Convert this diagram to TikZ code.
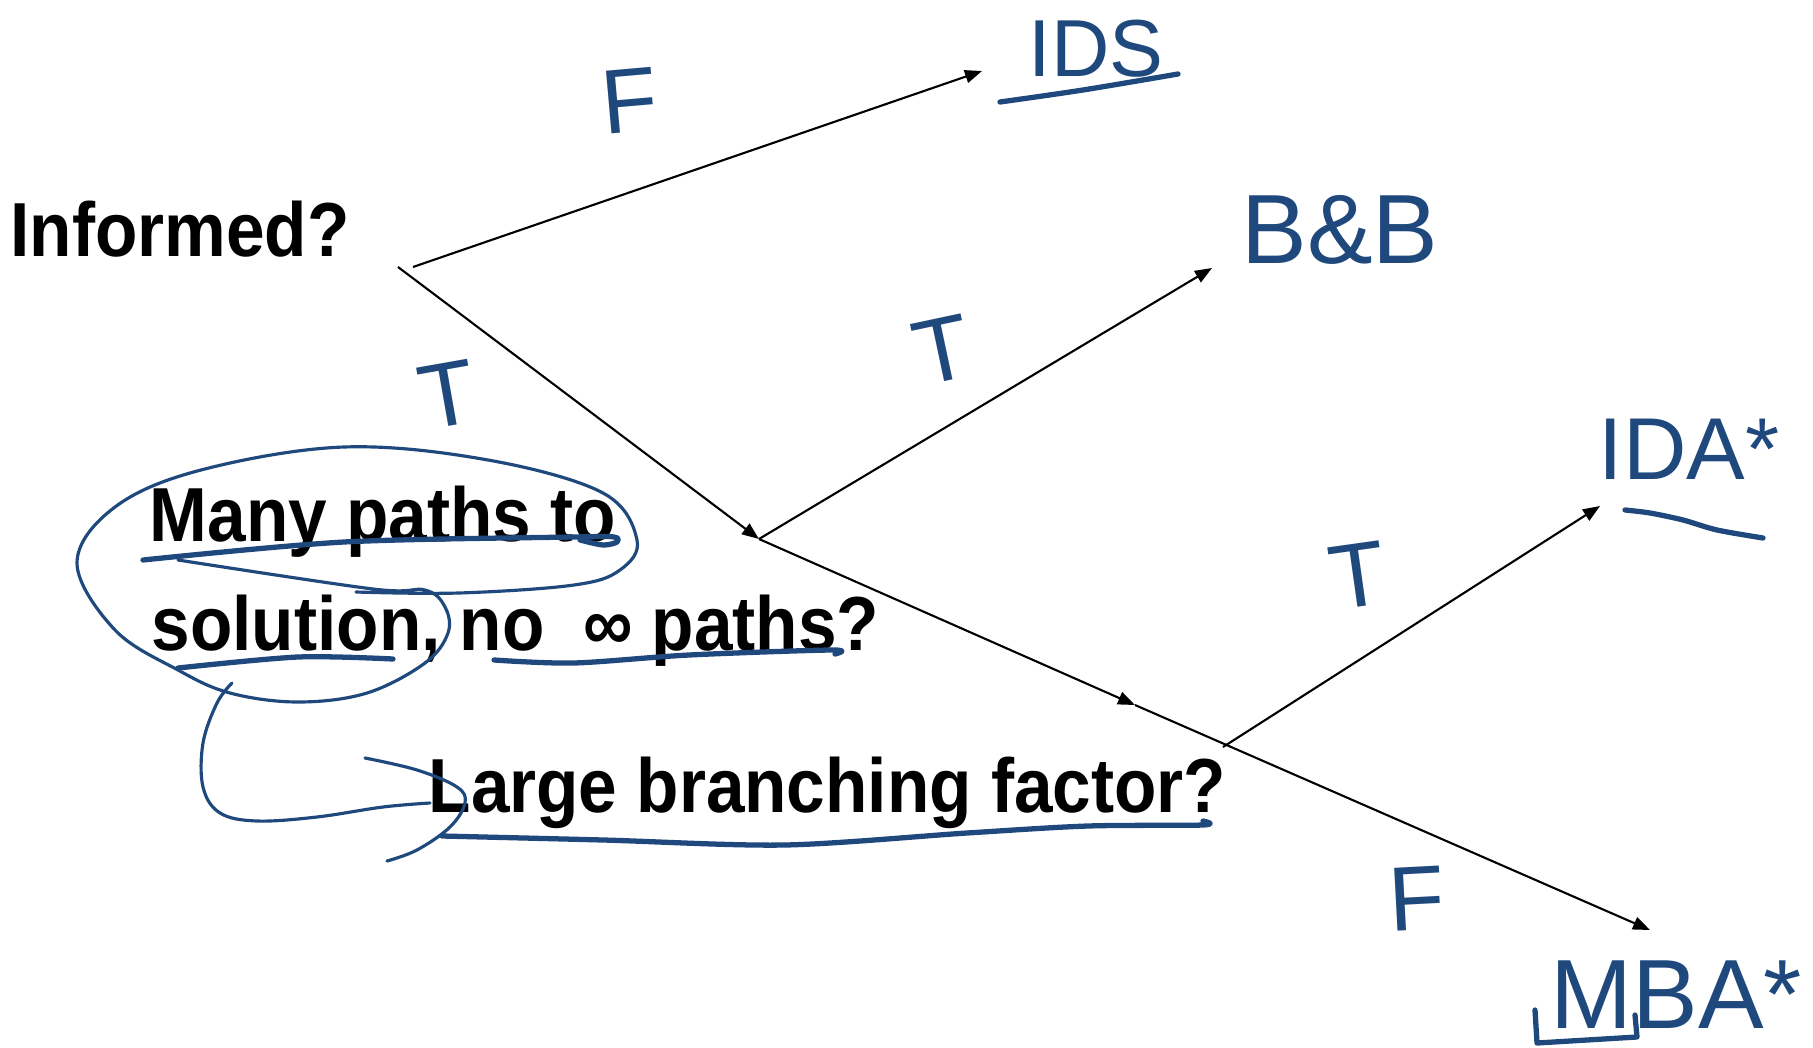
\documentclass[tikz,border=0pt]{standalone}
\usepackage{fontspec}
\usepackage{xcolor}
\usepackage{tikz}
\usetikzlibrary{arrows.meta}
\newfontfamily\slidefont[FakeStretch=0.905]{Liberation Sans}
\newfontfamily\handfont{Liberation Sans}
\definecolor{InkBlue}{RGB}{31,73,125}

\begin{document}
\begin{tikzpicture}[
    question/.style={anchor=base west,inner sep=0pt,text=black,
                     font=\slidefont\bfseries\fontsize{21.8}{26}\selectfont},
    hand/.style={inner sep=0pt,text=InkBlue,
                 font=\handfont\fontsize{26}{26}\selectfont},
    ink/.style={draw=InkBlue,line width=0.9pt,line cap=round,line join=round},
    inkbold/.style={ink,line width=1.5pt},
    arrow/.style={-{Triangle[length=0.17cm,width=0.13cm]},line width=0.6pt,black}]

    \fill[white] (0,0) rectangle (18.13,10.47);
    \useasboundingbox (0,0) rectangle (18.13,10.47);

    % questions
    \node[question] (informed)  at (0.10,7.90) {Informed?};
    \node[question] (manypaths) at (1.49,5.06) {Many paths to};
    \node[question] (nopaths)   at (1.51,3.97) {solution, no\ \ ∞ paths?};
    \node[question] (largebf)   at (4.28,2.35) {Large branching factor?};

    % answers
    \node[hand,font=\handfont\fontsize{23}{23}\selectfont] (ids) at (10.96,9.98) {IDS};
    \node[hand,font=\handfont\fontsize{28}{28}\selectfont] (bnb) at (13.40,8.17) {B\&B};
    \node[hand,font=\handfont\fontsize{25}{25}\selectfont,anchor=west] (idastar) at (15.98,5.98) {IDA*};
    \node[hand,font=\handfont\fontsize{28}{28}\selectfont,anchor=west] (mbastar) at (15.50,0.52) {MBA*};

    % branch labels
    \node[hand,rotate=5]  (lblF1) at (6.30,9.46) {F};
    \node[hand,rotate=10] (lblT1) at (4.48,6.52) {T};
    \node[hand,rotate=12] (lblT2) at (9.42,6.97) {T};
    \node[hand,rotate=8]  (lblT3) at (13.58,4.72) {T};
    \node[hand,rotate=3]  (lblF2) at (14.17,1.48) {F};

    % branch points and arrow tips
    \coordinate (infF)  at (4.13,7.80);
    \coordinate (infT)  at (3.98,7.80);
    \coordinate (q2)    at (7.59,5.08);
    \coordinate (q3)    at (11.35,3.42);
    \coordinate (q3T)   at (12.23,3.00);
    \coordinate (idsTip) at (9.82,9.76);
    \coordinate (bnbTip) at (12.12,7.79);
    \coordinate (idaTip) at (16.00,5.41);
    \coordinate (mbaTip) at (16.50,1.17);

    \draw[arrow] (infF) -- (idsTip);
    \draw[arrow] (infT) -- (q2);
    \draw[arrow] (q2) -- (bnbTip);
    \draw[arrow] (q2) -- (q3);
    \draw[arrow] (q3) -- (mbaTip);
    \draw[arrow] (q3T) -- (idaTip);

    % ink: loop round the first question
    \draw[ink] plot[smooth,tension=0.6] coordinates {
      (1.78,4.87) (3.73,4.58) (4.25,4.57) (4.45,4.40) (4.48,4.14) (4.25,3.84)
      (3.67,3.54) (2.98,3.45) (2.30,3.54) (1.78,3.77) (1.15,4.17) (0.77,4.84)
      (1.15,5.40) (2.01,5.77) (3.44,6.00) (4.88,5.87) (6.03,5.54) (6.37,5.07)
      (6.20,4.77) (5.74,4.62) (4.59,4.54) (3.56,4.55)};
    \draw[ink] plot[smooth,tension=0.6] coordinates {
      (2.32,3.64) (2.17,3.44) (2.03,3.04) (2.03,2.60) (2.20,2.34) (2.57,2.26)
      (3.17,2.30) (3.83,2.40) (4.30,2.44)};
    \draw[ink] plot[smooth,tension=0.6] coordinates {
      (3.65,2.89) (4.17,2.77) (4.57,2.60) (4.65,2.44) (4.50,2.20) (4.17,1.97) (3.87,1.86)};

    % ink: underlines
    \draw[inkbold] plot[smooth,tension=0.5] coordinates {
      (1.43,4.87) (3.44,5.05) (5.74,5.10) (6.14,5.10) (6.17,5.05) (6.03,5.02) (5.80,5.07)};
    \draw[inkbold] plot[smooth] coordinates {(1.78,3.79) (2.98,3.90) (3.93,3.88)};
    \draw[inkbold] plot[smooth] coordinates {
      (4.94,3.87) (5.74,3.84) (6.89,3.92) (8.32,3.97) (8.35,3.93)};
    \draw[inkbold] plot[smooth] coordinates {
      (4.42,2.11) (6.03,2.07) (7.85,2.02) (9.67,2.14) (10.88,2.21) (12.03,2.22) (12.03,2.26)};
    \draw[inkbold] plot[smooth] coordinates {(10.00,9.45) (10.83,9.57) (11.78,9.73)};
    \draw[inkbold] plot[smooth] coordinates {
      (16.25,5.37) (16.50,5.34) (16.83,5.27) (17.17,5.17) (17.63,5.09)};
    \draw[inkbold] (15.35,0.37) -- (15.37,0.04) -- (16.37,0.10) -- (16.35,0.32);
\end{tikzpicture}
\end{document}
